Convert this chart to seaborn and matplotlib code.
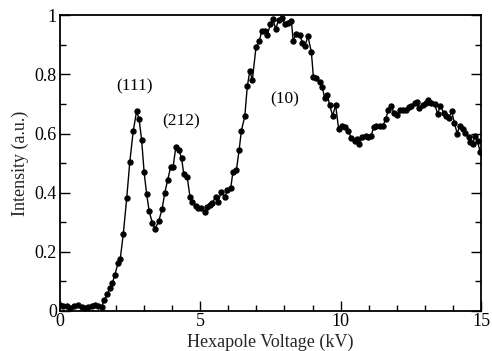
import numpy as np
import pandas as pd
import matplotlib
matplotlib.use("Agg")
import matplotlib.pyplot as plt
from matplotlib.ticker import MultipleLocator
import seaborn as sns

# Data
voltage_kv = [
    0.00, 0.13, 0.25, 0.37, 0.52, 0.66, 0.79, 0.91, 1.02, 1.14, 1.26, 1.38, 1.50,
    1.59, 1.70, 1.79, 1.88, 1.97, 2.08, 2.16, 2.27, 2.39, 2.50, 2.62, 2.74, 2.83,
    2.92, 3.01, 3.10, 3.19, 3.30, 3.40, 3.53, 3.65, 3.74, 3.85, 3.95, 4.04, 4.14,
    4.25, 4.34, 4.42, 4.54, 4.64, 4.73, 4.84, 4.93, 5.05, 5.17, 5.25, 5.35, 5.44,
    5.56, 5.64, 5.76, 5.88, 5.97, 6.09, 6.17, 6.29, 6.39, 6.47, 6.59, 6.68, 6.77,
    6.86, 6.99, 7.11, 7.19, 7.31, 7.39, 7.50, 7.59, 7.69, 7.80, 7.91, 8.01, 8.12,
    8.25, 8.31, 8.43, 8.54, 8.64, 8.72, 8.84, 8.96, 9.03, 9.14, 9.25, 9.35, 9.43,
    9.53, 9.61, 9.72, 9.82, 9.93, 10.06, 10.17, 10.28, 10.38, 10.50, 10.58, 10.67,
    10.77, 10.89, 10.97, 11.09, 11.17, 11.27, 11.39, 11.50, 11.60, 11.70, 11.80,
    11.89, 12.00, 12.10, 12.21, 12.33, 12.43, 12.51, 12.63, 12.72, 12.80, 12.92,
    13.02, 13.12, 13.22, 13.34, 13.45, 13.55, 13.66, 13.75, 13.84, 13.95, 14.05,
    14.15, 14.23, 14.35, 14.44, 14.55, 14.62, 14.70, 14.78, 14.87, 14.97,
]
intensity = [
    0.020, 0.016, 0.016, 0.008, 0.016, 0.020, 0.014, 0.008, 0.014, 0.017, 0.019, 0.016, 0.014,
    0.036, 0.055, 0.076, 0.094, 0.122, 0.160, 0.176, 0.261, 0.381, 0.504, 0.607, 0.675, 0.649,
    0.579, 0.468, 0.394, 0.336, 0.298, 0.277, 0.304, 0.344, 0.398, 0.444, 0.485, 0.487, 0.556,
    0.543, 0.517, 0.463, 0.454, 0.386, 0.369, 0.353, 0.347, 0.347, 0.333, 0.350, 0.358, 0.366,
    0.386, 0.369, 0.403, 0.386, 0.407, 0.415, 0.471, 0.475, 0.545, 0.610, 0.658, 0.760, 0.812,
    0.782, 0.893, 0.913, 0.947, 0.947, 0.933, 0.970, 0.987, 0.955, 0.986, 0.991, 0.972, 0.976,
    0.980, 0.915, 0.938, 0.935, 0.908, 0.895, 0.929, 0.875, 0.793, 0.788, 0.773, 0.757, 0.720,
    0.731, 0.695, 0.660, 0.697, 0.615, 0.624, 0.622, 0.607, 0.584, 0.576, 0.581, 0.564,
    0.588, 0.592, 0.588, 0.592, 0.622, 0.624, 0.624, 0.624, 0.649, 0.680, 0.694,
    0.671, 0.663, 0.678, 0.680, 0.678, 0.689, 0.692, 0.703, 0.708, 0.686, 0.697,
    0.703, 0.712, 0.705, 0.701, 0.667, 0.694, 0.671, 0.660, 0.652, 0.675, 0.635,
    0.599, 0.626, 0.615, 0.603, 0.588, 0.570, 0.565, 0.592, 0.573, 0.536,
]
peak_labels = ["(111)", "(212)", "(10)"]
peak_label_x = [2.68, 4.34, 8.0]
peak_label_y = [0.76, 0.64, 0.715]

x_ticks = [0, 5, 10, 15]
y_ticks = [0, 0.2, 0.4, 0.6, 0.8, 1.0]
y_tick_labels = ["0", "0.2", "0.4", "0.6", "0.8", "1"]

df = pd.DataFrame({"Voltage": voltage_kv, "Intensity": intensity})

sns.set_style("ticks")
plt.rcParams["font.family"] = ["Liberation Serif", "DejaVu Serif"]

fig = plt.figure(figsize=(4.92, 3.51), dpi=100)
ax = fig.add_axes([0.121, 0.115, 0.857, 0.841])

sns.lineplot(data=df, x="Voltage", y="Intensity", ax=ax, color="black",
             linewidth=1.0, marker="o", markersize=3.8, markeredgecolor="black",
             markerfacecolor="black", sort=False, legend=False)

for lab, lx, ly in zip(peak_labels, peak_label_x, peak_label_y):
    ax.text(lx, ly, lab, ha="center", va="center", fontsize=12.5, color="black")

ax.set_xlim(0, 15)
ax.set_ylim(0, 1)
ax.set_xticks(x_ticks)
ax.set_xticklabels([str(t) for t in x_ticks])
ax.set_yticks(y_ticks)
ax.set_yticklabels(y_tick_labels)
ax.xaxis.set_minor_locator(MultipleLocator(1))
ax.yaxis.set_minor_locator(MultipleLocator(0.1))
ax.tick_params(which="both", direction="in", top=False, right=True,
               labelsize=13, colors="black", width=1.0, pad=2)
ax.tick_params(which="major", length=7)
ax.tick_params(which="minor", length=4)
for s in ax.spines.values():
    s.set_linewidth(1.3)
    s.set_color("black")

ax.set_xlabel("Hexapole Voltage (kV)", fontsize=13, labelpad=2)
ax.set_ylabel("Intensity (a.u.)", fontsize=13, labelpad=4)

fig.savefig("out.png", dpi=100)
